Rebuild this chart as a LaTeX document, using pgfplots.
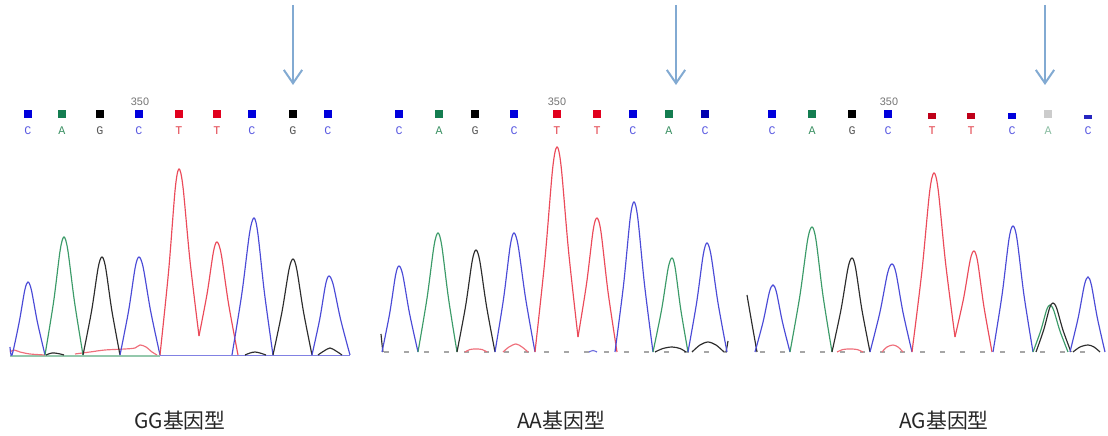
\documentclass[border=0pt]{standalone}
\usepackage{pgfplots}
\pgfplotsset{compat=1.18}
\usepackage{fontspec}
\setmainfont{Liberation Sans}
\newfontfamily\cjk{Noto Sans CJK SC}
\newfontfamily\mono{Liberation Mono}
\usetikzlibrary{arrows.meta}
\definecolor{tblue}{RGB}{75,75,215}
\definecolor{tgreen}{RGB}{60,155,105}
\definecolor{tblack}{RGB}{45,45,45}
\definecolor{tred}{RGB}{235,75,90}
\definecolor{sblue}{RGB}{0,0,220}
\definecolor{sgreen}{RGB}{20,125,80}
\definecolor{sblack}{RGB}{0,0,0}
\definecolor{sred}{RGB}{225,0,30}
\definecolor{lblue}{RGB}{90,90,225}
\definecolor{lgreen}{RGB}{60,145,100}
\definecolor{lgrey}{RGB}{90,90,90}
\definecolor{lred}{RGB}{225,60,70}
\definecolor{arrowc}{RGB}{130,170,210}
\pgfplotsset{
  chrom/.style={scale only axis, hide axis, clip=false, ymin=0, ymax=220, height=132pt,
    every axis plot/.append style={line width=0.7pt}},
  pk/.style={smooth, no marks, #1},
}
\begin{document}
\begin{tikzpicture}
\useasboundingbox (0,0) rectangle (664.8pt,261.6pt);
% ---------------- Panel 1: GG ----------------
\begin{axis}[chrom, xmin=10, xmax=350, width=204pt, at={(6pt,48.6pt)}, anchor=south west]
\addplot[no marks, tgreen!55] coordinates {(10,-1)(160,-1)};
\addplot[no marks, tblue!70] coordinates {(160,-0.5)(350,-0.5)};
% noise
\addplot[pk=tred!80] coordinates {(10,3)(14,5)(20,3)(30,1)(45,0)};
\addplot[pk=tred!80] coordinates {(75,1)(90,3)(105,5)(125,6)(135,7)(140,10)(146,8)(152,3)(157,0)};
\addplot[pk=tblack] coordinates {(46,0)(52,2)(58,1.5)(64,0)};
\addplot[pk=tblack] coordinates {(245,0)(250,2)(255,3)(260,2)(266,0)};
\addplot[pk=tblack] coordinates {(318,0)(324,4)(330,7)(336,4)(342,0)};
% peaks
\addplot[pk=tblue] coordinates {(10,8)(12,0)(19.2,32.9)(24.8,65)(28,73)(31.4,65)(37.4,32.9)(45,0)};
\addplot[pk=tgreen] coordinates {(45,0)(53.6,53.1)(60.2,105)(64,118)(67.8,105)(74.5,53.1)(83,0)};
\addplot[pk=tblack] coordinates {(83,0)(91.6,44.1)(98.2,87.5)(102,98)(105.6,87.5)(111.9,44.1)(120,0)};
\addplot[pk=tblue] coordinates {(120,0)(128.6,44.1)(135.2,87.5)(139,98)(143.2,87.5)(150.6,44.1)(160,0)};
\addplot[pk=tred] coordinates {(160,0)(168.6,83.7)(175.2,166)(179,186)(183,168)(190,94.2)(199,19)};
\addplot[pk=tred] coordinates {(199,19)(207.1,61.3)(213.4,103)(217,113)(221.2,101)(228.6,50.9)(238,0)};
\addplot[pk=tblue] coordinates {(232,0)(241.9,61.7)(249.6,122)(254,137)(257.8,122)(264.5,61.7)(273,0)};
\addplot[pk=tblack] coordinates {(273,0)(282,43.2)(289,85.5)(293,96)(296.8,85.5)(303.5,43.2)(312,0)};
\addplot[pk=tblue] coordinates {(312,0)(319.7,35.6)(325.6,70.5)(329,79)(333.2,70.5)(340.6,35.6)(350,0)};
% base calls
\addplot[only marks, mark=square*, mark size=2.1pt, sblue] coordinates {(28,241)(139,241)(252,241)(328,241)};
\addplot[only marks, mark=square*, mark size=2.1pt, sgreen] coordinates {(62,241)};
\addplot[only marks, mark=square*, mark size=2.1pt, sblack] coordinates {(100,241)(293,241)};
\addplot[only marks, mark=square*, mark size=2.1pt, sred] coordinates {(179,241)(217,241)};
\node[font=\mono\fontsize{7}{8}\selectfont, lblue] at (axis cs:28,224) {C};
\node[font=\mono\fontsize{7}{8}\selectfont, lgreen] at (axis cs:62,224) {A};
\node[font=\mono\fontsize{7}{8}\selectfont, lgrey] at (axis cs:100,224) {G};
\node[font=\mono\fontsize{7}{8}\selectfont, lblue] at (axis cs:139,224) {C};
\node[font=\mono\fontsize{7}{8}\selectfont, lred] at (axis cs:179,224) {T};
\node[font=\mono\fontsize{7}{8}\selectfont, lred] at (axis cs:217,224) {T};
\node[font=\mono\fontsize{7}{8}\selectfont, lblue] at (axis cs:252,224) {C};
\node[font=\mono\fontsize{7}{8}\selectfont, lgrey] at (axis cs:293,224) {G};
\node[font=\mono\fontsize{7}{8}\selectfont, lblue] at (axis cs:328,224) {C};
\node[font=\fontsize{6.5}{7}\selectfont, black!55] at (axis cs:140,253) {350};
\draw[arrowc, line width=1.2pt, -{Straight Barb[length=8pt,width=11pt,line width=1.2pt]}] (axis cs:293,350) -- (axis cs:293,270);
\node[font=\cjk\fontsize{12.5}{14}\selectfont, black!85] at (axis cs:180,-66) {GG基因型};
\end{axis}
% ---------------- Panel 2: AA ----------------
\begin{axis}[chrom, xmin=380, xmax=730, width=210pt, at={(228pt,50.4pt)}, anchor=south west]
\addplot[no marks, black!35, dash pattern=on 3pt off 9pt] coordinates {(384,0)(727,0)};
\addplot[pk=tred!80] coordinates {(465,0)(470,2.5)(476,3)(482,2.5)(487,0)};
\addplot[pk=tred!80] coordinates {(503,0)(509,5)(516,8)(522,5)(528,0)};
\addplot[pk=tblue!80] coordinates {(589,0)(593,1.5)(597,0)};
\addplot[pk=tblack] coordinates {(655,0)(663,3.5)(672,5)(680,3.5)(686,0)};
\addplot[pk=tblack] coordinates {(692,0)(700,7)(708,10)(716,7)(724,0)};
\addplot[pk=tblack] coordinates {(381,18)(382,8)(383,0)};
\addplot[pk=tblack] coordinates {(726,0)(727,5)(728,11)};
\addplot[pk=tblue] coordinates {(382,0)(389.7,38.7)(395.6,77)(399,86)(402.8,77)(409.5,38.7)(418,0)};
\addplot[pk=tgreen] coordinates {(418,0)(427,53.6)(434,106)(438,119)(441.8,106)(448.5,53.6)(457,0)};
\addplot[pk=tblack] coordinates {(457,0)(465.6,45.9)(472.2,91)(476,102)(479.8,91)(486.5,45.9)(495,0)};
\addplot[pk=tblue] coordinates {(495,0)(503.6,53.6)(510.2,106)(514,119)(518.2,106)(525.6,53.6)(535,0)};
\addplot[pk=tred] coordinates {(535,0)(544.9,92.3)(552.6,183)(557,205)(561.2,185)(568.6,100.5)(578,15)};
\addplot[pk=tred] coordinates {(578,15)(586.6,68.6)(593.2,122)(597,134)(601,120)(608,60.3)(617,0)};
\addplot[pk=tblue] coordinates {(615,0)(623.6,67.5)(630.2,134)(634,150)(637.8,134)(644.5,67.5)(653,0)};
\addplot[pk=tgreen] coordinates {(653,0)(661.6,42.3)(668.2,84)(672,94)(675.2,84)(680.8,42.3)(688,0)};
\addplot[pk=tblue] coordinates {(688,0)(696.6,49.1)(703.2,97)(707,109)(711,97)(718,49.1)(727,0)};
\addplot[only marks, mark=square*, mark size=2.1pt, sblue] coordinates {(399,238)(514,238)(633,238)};
\addplot[only marks, mark=square*, mark size=1.8pt, sblue!80!black] coordinates {(705,238)};
\addplot[only marks, mark=square*, mark size=2.1pt, sgreen] coordinates {(439,238)(669,238)};
\addplot[only marks, mark=square*, mark size=2.1pt, sblack] coordinates {(475,238)};
\addplot[only marks, mark=square*, mark size=2.1pt, sred] coordinates {(557,238)(597,238)};
\node[font=\mono\fontsize{7}{8}\selectfont, lblue] at (axis cs:399,221) {C};
\node[font=\mono\fontsize{7}{8}\selectfont, lgreen] at (axis cs:439,221) {A};
\node[font=\mono\fontsize{7}{8}\selectfont, lgrey] at (axis cs:475,221) {G};
\node[font=\mono\fontsize{7}{8}\selectfont, lblue] at (axis cs:514,221) {C};
\node[font=\mono\fontsize{7}{8}\selectfont, lred] at (axis cs:557,221) {T};
\node[font=\mono\fontsize{7}{8}\selectfont, lred] at (axis cs:597,221) {T};
\node[font=\mono\fontsize{7}{8}\selectfont, lblue] at (axis cs:633,221) {C};
\node[font=\mono\fontsize{7}{8}\selectfont, lgreen] at (axis cs:669,221) {A};
\node[font=\mono\fontsize{7}{8}\selectfont, lblue] at (axis cs:705,221) {C};
\node[font=\fontsize{6.5}{7}\selectfont, black!55] at (axis cs:557,250) {350};
\draw[arrowc, line width=1.2pt, -{Straight Barb[length=8pt,width=11pt,line width=1.2pt]}] (axis cs:676,347) -- (axis cs:676,267);
\node[font=\cjk\fontsize{12.5}{14}\selectfont, black!85] at (axis cs:561,-69) {AA基因型};
\end{axis}
% ---------------- Panel 3: AG ----------------
\begin{axis}[chrom, xmin=745, xmax=1108, width=217.8pt, at={(447pt,50.4pt)}, anchor=south west]
\addplot[no marks, black!35, dash pattern=on 3pt off 9pt] coordinates {(760,0)(1100,0)};
\addplot[pk=tred!80] coordinates {(837,0)(843,2.5)(850,3)(857,2.5)(863,0)};
\addplot[pk=tred!80] coordinates {(882,0)(887,5)(893,7)(898,5)(903,0)};
\addplot[pk=tblack] coordinates {(1073,0)(1080,5)(1088,7)(1094,5)(1100,0)};
\addplot[pk=tblack] coordinates {(747,57)(752,28)(757,0)};
\addplot[pk=tblue] coordinates {(755,0)(763.1,30.2)(769.4,60)(773,67)(776.4,60)(782.4,30.2)(790,0)};
\addplot[pk=tgreen] coordinates {(790,0)(799.9,56.3)(807.6,112)(812,125)(816,112)(823,56.3)(832,0)};
\addplot[pk=tblack] coordinates {(832,0)(841,42.3)(848,84)(852,94)(855.6,84)(861.9,42.3)(870,0)};
\addplot[pk=tblue] coordinates {(870,0)(879.9,39.6)(887.6,79)(892,88)(896,79)(903,39.6)(912,0)};
\addplot[pk=tred] coordinates {(912,0)(921.9,80.6)(929.6,160)(934,179)(938.2,162)(945.6,88.8)(955,15)};
\addplot[pk=tred] coordinates {(955,15)(963.6,53.7)(970.2,92)(974,101)(977.6,90.5)(983.9,45.5)(992,0)};
\addplot[pk=tblue] coordinates {(993,0)(1002,56.7)(1009,113)(1013,126)(1017,113)(1024,56.7)(1033,0)};
\addplot[pk=tgreen] coordinates {(1033,0)(1040.7,21.2)(1046.6,42)(1050,47)(1053.6,42)(1059.9,21.2)(1068,0)};
\addplot[pk=tblack] coordinates {(1036,0)(1043.7,22.1)(1049.6,44)(1053,49)(1056.6,44)(1062.9,22.1)(1071,0)};
\addplot[pk=tblue] coordinates {(1070,0)(1078.1,33.8)(1084.4,67)(1088,75)(1091.4,67)(1097.4,33.8)(1105,0)};
\addplot[only marks, mark=square*, mark size=2.1pt, sblue] coordinates {(772,238)(888,238)};
\addplot[only marks, mark=square*, mark size=2.1pt, sgreen] coordinates {(812,238)};
\addplot[only marks, mark=square*, mark size=2.1pt, sblack] coordinates {(852,238)};
\addplot[only marks, mark=square*, mark size=2.1pt, mark options={yscale=0.55}, sred!85!black] coordinates {(932,236)(971,236)};
\addplot[only marks, mark=square*, mark size=2.1pt, mark options={yscale=0.55}, sblue] coordinates {(1012,236)};
\addplot[only marks, mark=square*, mark size=2.0pt, black!20] coordinates {(1048,238)};
\addplot[only marks, mark=square*, mark size=2.0pt, mark options={yscale=0.4}, sblue!70!gray] coordinates {(1088,235)};
\node[font=\mono\fontsize{7}{8}\selectfont, lblue] at (axis cs:772,221) {C};
\node[font=\mono\fontsize{7}{8}\selectfont, lgreen] at (axis cs:812,221) {A};
\node[font=\mono\fontsize{7}{8}\selectfont, lgrey] at (axis cs:852,221) {G};
\node[font=\mono\fontsize{7}{8}\selectfont, lblue] at (axis cs:888,221) {C};
\node[font=\mono\fontsize{7}{8}\selectfont, lred] at (axis cs:932,221) {T};
\node[font=\mono\fontsize{7}{8}\selectfont, lred] at (axis cs:971,221) {T};
\node[font=\mono\fontsize{7}{8}\selectfont, lblue] at (axis cs:1012,221) {C};
\node[font=\mono\fontsize{7}{8}\selectfont, lgreen!60] at (axis cs:1048,221) {A};
\node[font=\mono\fontsize{7}{8}\selectfont, lblue] at (axis cs:1088,221) {C};
\node[font=\fontsize{6.5}{7}\selectfont, black!55] at (axis cs:889,250) {350};
\draw[arrowc, line width=1.2pt, -{Straight Barb[length=8pt,width=11pt,line width=1.2pt]}] (axis cs:1045,347) -- (axis cs:1045,267);
\node[font=\cjk\fontsize{12.5}{14}\selectfont, black!85] at (axis cs:944,-69) {AG基因型};
\end{axis}
\end{tikzpicture}
\end{document}
